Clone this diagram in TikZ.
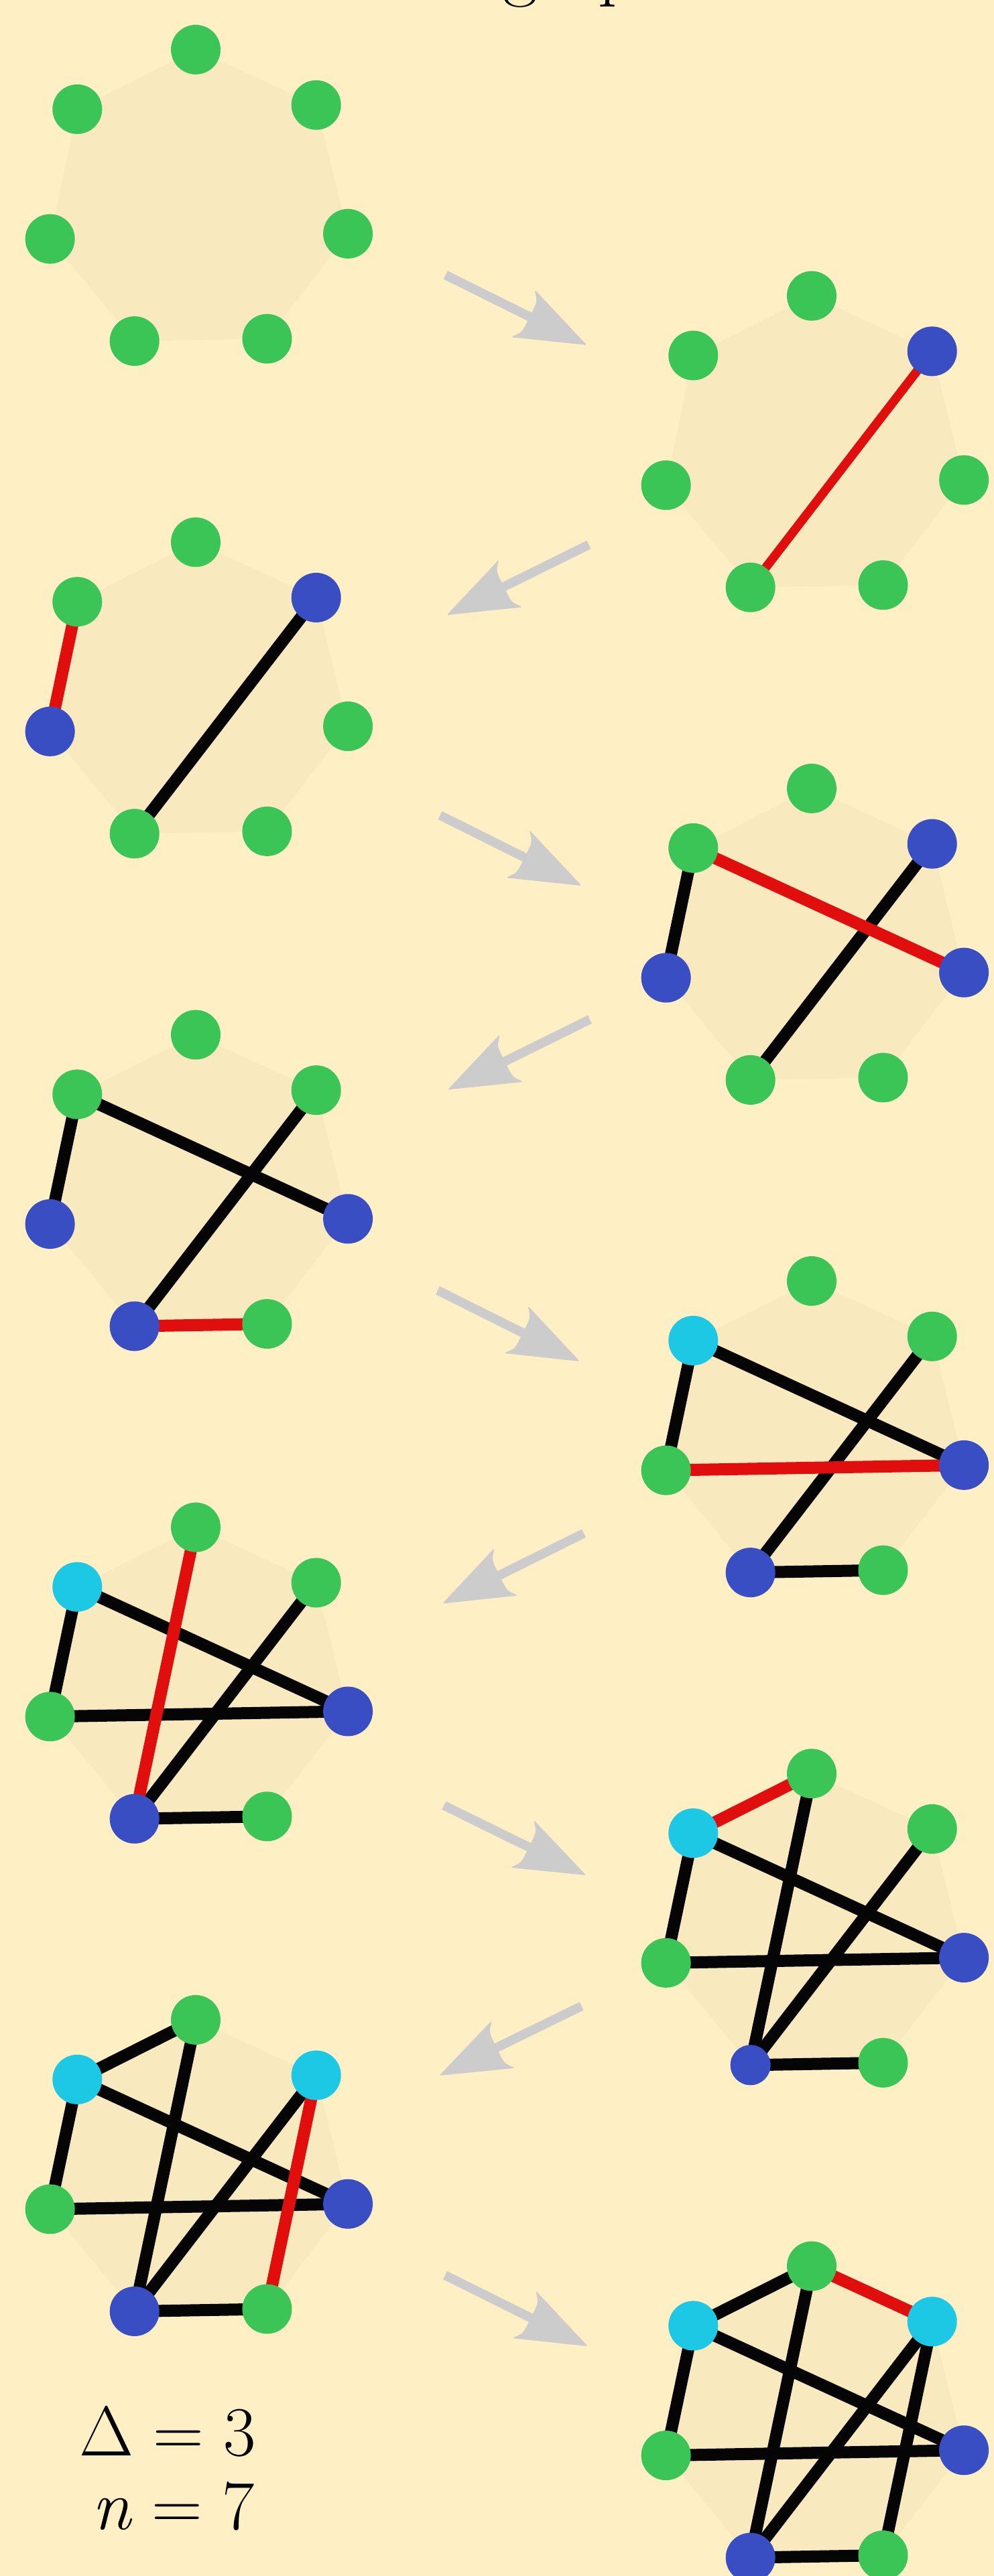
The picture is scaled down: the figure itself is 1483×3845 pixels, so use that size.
\documentclass[tikz,border=0pt]{standalone}
\usetikzlibrary{calc}
\pgfdeclarelayer{bglayer}
\pgfdeclarelayer{edgelayer}
\pgfsetlayers{bglayer,edgelayer,main}
\definecolor{bgc}{RGB}{255,239,197}
\definecolor{polyc}{RGB}{248,233,191}
\definecolor{ngreen}{RGB}{58,197,86}
\definecolor{nblue}{RGB}{58,78,196}
\definecolor{ncyan}{RGB}{28,200,228}
\definecolor{edgered}{RGB}{225,14,14}
\definecolor{eblack}{RGB}{5,5,5}
\definecolor{arrowc}{RGB}{204,204,204}
\tikzset{
  vtx/.style={circle,inner sep=0pt,draw=none,fill=#1},
  eblk/.style={draw=eblack,line width=9pt},
  ered/.style={draw=edgered,line width=9pt},
  thinred/.style={draw=edgered,line width=6.6pt},
  flowshaft/.style={draw=arrowc,line width=6.85pt},
  flowhead/.style={fill=arrowc,draw=arrowc,line width=0.8pt,line join=round},
  lbl/.style={font=\fontsize{52.5}{60}\selectfont,inner sep=0pt,anchor=base west},
}
% #1 name, #2 cx, #3 cy, #4 colours, #5 index of a smaller vertex (-1 none)
\newcommand\heptpanel[5]{%
  \foreach \col [count=\j from 0] in {#4} {
    \pgfmathsetmacro\vs{(\j==#5)?30:37}
    \node[vtx=\col,minimum size=\vs pt] (#1v\j) at ({#2+228*cos(91+\j*360/7)},{#3-228*sin(91+\j*360/7)}) {};
  }
  \begin{pgfonlayer}{bglayer}
    \fill[polyc] (#1v0.center) -- (#1v1.center) -- (#1v2.center) -- (#1v3.center) -- (#1v4.center) -- (#1v5.center) -- (#1v6.center) -- cycle;
  \end{pgfonlayer}
}
\newcommand\blackedges[2]{%
  \begin{pgfonlayer}{edgelayer}
    \foreach \a/\b in {#2} {\draw[eblk] (#1v\a.center) -- (#1v\b.center);}
  \end{pgfonlayer}}
\newcommand\rededges[3][ered]{%
  \begin{pgfonlayer}{edgelayer}
    \foreach \a/\b in {#3} {\draw[#1] (#2v\a.center) -- (#2v\b.center);}
  \end{pgfonlayer}}
% grey step arrow from coordinate #1 (tail) to coordinate #2 (tip)
\newcommand\stepflow[2]{%
  \draw[flowshaft] (#1) -- ($(#2)!45pt!(#1)$);
  \filldraw[flowhead] (#2) -- ($(#2)!54.4pt!20.4:(#1)$)
     .. controls ($(#2)!47.8pt!15.8:(#1)$) .. ($(#2)!46.1pt!4.35:(#1)$)
     -- ($(#2)!46.1pt!-4.35:(#1)$)
     .. controls ($(#2)!47.8pt!-15.8:(#1)$) .. ($(#2)!54.4pt!-20.4:(#1)$) -- cycle;
}
\begin{document}
\begin{tikzpicture}[x=0.5pt,y=-0.5pt]
\useasboundingbox (0,0) rectangle (1483,3845);
\begin{pgfonlayer}{bglayer}
  \fill[bgc] (0,0) rectangle (1483,3845);
\end{pgfonlayer}
\clip (0,0) rectangle (1483,3845);

% title (only its descenders fall inside the picture)
\node[anchor=base west,inner sep=0pt,font=\fontsize{56}{60}\selectfont] (title) at (750,-12) {graph};

% vertex order: 0 top, 1 upper left, 2 left, 3 lower left, 4 lower right, 5 right, 6 upper right
\heptpanel{pa}{296}{302}{ngreen,ngreen,ngreen,ngreen,ngreen,ngreen,ngreen}{-1}

\heptpanel{pb}{1215}{669.6}{ngreen,ngreen,ngreen,ngreen,ngreen,ngreen,nblue}{-1}
\rededges[thinred]{pb}{3/6}

\heptpanel{pc}{296}{1037.2}{ngreen,ngreen,nblue,ngreen,ngreen,ngreen,nblue}{-1}
\blackedges{pc}{3/6}
\rededges{pc}{1/2}

\heptpanel{pd}{1215}{1404.8}{ngreen,ngreen,nblue,ngreen,ngreen,nblue,nblue}{-1}
\blackedges{pd}{1/2,3/6}
\rededges{pd}{1/5}

\heptpanel{pe}{296}{1772.4}{ngreen,ngreen,nblue,nblue,ngreen,nblue,ngreen}{-1}
\blackedges{pe}{1/2,1/5,3/6}
\rededges{pe}{3/4}

\heptpanel{pf}{1215}{2140}{ngreen,ncyan,ngreen,nblue,ngreen,nblue,ngreen}{-1}
\blackedges{pf}{1/2,1/5,3/6,3/4}
\rededges{pf}{2/5}

\heptpanel{pg}{296}{2507.6}{ngreen,ncyan,ngreen,nblue,ngreen,nblue,ngreen}{-1}
\blackedges{pg}{1/2,1/5,2/5,3/6,3/4}
\rededges{pg}{0/3}

\heptpanel{ph}{1215}{2875.2}{ngreen,ncyan,ngreen,nblue,ngreen,nblue,ngreen}{3}
\blackedges{ph}{0/3,1/2,1/5,2/5,3/6,3/4}
\rededges{ph}{0/1}

\heptpanel{pi}{296}{3242.8}{ngreen,ncyan,ngreen,nblue,ngreen,nblue,ncyan}{-1}
\blackedges{pi}{0/1,0/3,1/2,1/5,2/5,3/6,3/4}
\rededges{pi}{4/6}

\heptpanel{pj}{1215}{3610.4}{ngreen,ncyan,ngreen,nblue,ngreen,nblue,ncyan}{-1}
\blackedges{pj}{0/1,0/3,1/2,1/5,2/5,3/6,3/4,4/6}
\rededges{pj}{0/6}

% step arrows
\coordinate (s1) at (664.7,410.5);  \coordinate (e1) at (873.3,514);
\coordinate (s2) at (878.4,813);    \coordinate (e2) at (668.6,917);
\coordinate (s3) at (656.6,1217);   \coordinate (e3) at (865.7,1321);
\coordinate (s4) at (880,1521.5);   \coordinate (e4) at (670,1625.5);
\coordinate (s5) at (653,1926);     \coordinate (e5) at (863,2031);
\coordinate (s6) at (871,2288.6);   \coordinate (e6) at (662,2392.5);
\coordinate (s7) at (662.3,2694.8); \coordinate (e7) at (872.3,2798);
\coordinate (s8) at (867.6,2994.4); \coordinate (e8) at (657.5,3097);
\coordinate (s9) at (664,3396);     \coordinate (e9) at (875,3501);
\foreach \k in {1,...,9} {\stepflow{s\k}{e\k}}

% parameters
\node[lbl] (delta) at (118,3665) {Δ\hspace{0.278em}=\hspace{0.278em}3};
\node[lbl] (nval) at (137,3775) {\textit{n}\hspace{0.278em}=\hspace{0.278em}7};
\end{tikzpicture}
\end{document}
